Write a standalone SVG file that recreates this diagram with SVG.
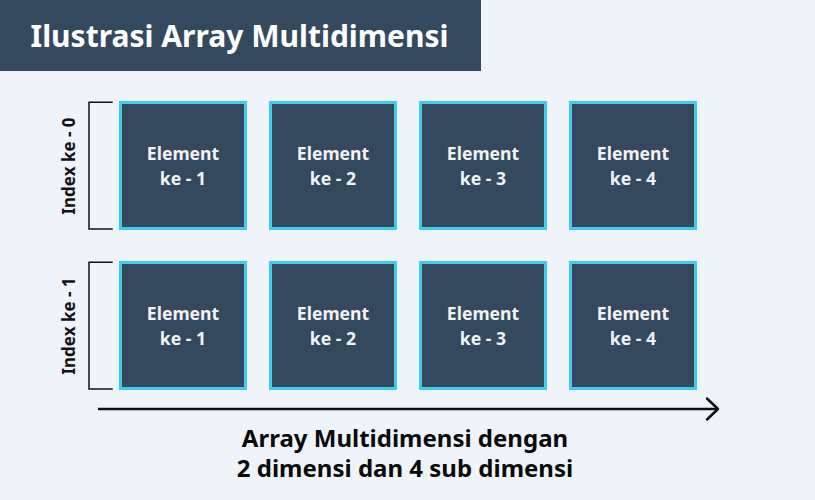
<svg xmlns="http://www.w3.org/2000/svg" width="815" height="500" viewBox="0 0 815 500">
<defs>
<style>
.cell{fill:#34495E;stroke:#3ECCF2;stroke-width:3}
.ct{font-family:"Noto Sans","Open Sans",sans-serif;font-weight:700;font-size:17.6px;fill:#F2F2F2;text-anchor:middle}
.lbl{font-family:"Noto Sans","Open Sans",sans-serif;font-weight:700;font-size:17px;fill:#111;text-anchor:middle}
.brk{fill:none;stroke:#111;stroke-width:1.5}
.cap{font-family:"Noto Sans","Open Sans",sans-serif;font-weight:700;font-size:24px;fill:#0a0a0a;text-anchor:middle}
</style>
</defs>
<rect width="815" height="500" fill="#EFF4FB"/>
<g id="title">
<rect x="0" y="0" width="481" height="71" fill="#34495E"/>
<text x="239.5" y="47" style="font-family:'Noto Sans','Open Sans',sans-serif;font-weight:700;font-size:30px;fill:#FFFFFF" text-anchor="middle">Ilustrasi Array Multidimensi</text>
</g>
<g id="index0">
<path class="brk" d="M112.7 102.3H89V229H112.7"/>
<text class="lbl" transform="translate(74.5 166) rotate(-90)">Index ke - 0</text>
</g>
<g id="index1">
<path class="brk" d="M112.7 262.3H89V389H112.7"/>
<text class="lbl" transform="translate(74.5 326) rotate(-90)">Index ke - 1</text>
</g>
<g id="r0c1"><rect class="cell" x="120.5" y="102.5" width="125" height="126"/><text class="ct" x="183" y="160">Element</text><text class="ct" x="183" y="185">ke - 1</text></g>
<g id="r0c2"><rect class="cell" x="270.5" y="102.5" width="125" height="126"/><text class="ct" x="333" y="160">Element</text><text class="ct" x="333" y="185">ke - 2</text></g>
<g id="r0c3"><rect class="cell" x="420.5" y="102.5" width="125" height="126"/><text class="ct" x="483" y="160">Element</text><text class="ct" x="483" y="185">ke - 3</text></g>
<g id="r0c4"><rect class="cell" x="570.5" y="102.5" width="125" height="126"/><text class="ct" x="633" y="160">Element</text><text class="ct" x="633" y="185">ke - 4</text></g>
<g id="r1c1"><rect class="cell" x="120.5" y="262.5" width="125" height="126"/><text class="ct" x="183" y="320">Element</text><text class="ct" x="183" y="345">ke - 1</text></g>
<g id="r1c2"><rect class="cell" x="270.5" y="262.5" width="125" height="126"/><text class="ct" x="333" y="320">Element</text><text class="ct" x="333" y="345">ke - 2</text></g>
<g id="r1c3"><rect class="cell" x="420.5" y="262.5" width="125" height="126"/><text class="ct" x="483" y="320">Element</text><text class="ct" x="483" y="345">ke - 3</text></g>
<g id="r1c4"><rect class="cell" x="570.5" y="262.5" width="125" height="126"/><text class="ct" x="633" y="320">Element</text><text class="ct" x="633" y="345">ke - 4</text></g>
<g id="connectors">
<path d="M98 409H718" fill="none" stroke="#111" stroke-width="2.5"/>
<path d="M707 398.5L718 409L707 419.5" fill="none" stroke="#111" stroke-width="2.5" stroke-linecap="round" stroke-linejoin="round"/>
</g>
<g id="caption">
<text class="cap" x="405" y="447">Array Multidimensi dengan</text>
<text class="cap" x="405" y="477">2 dimensi dan 4 sub dimensi</text>
</g>
</svg>
